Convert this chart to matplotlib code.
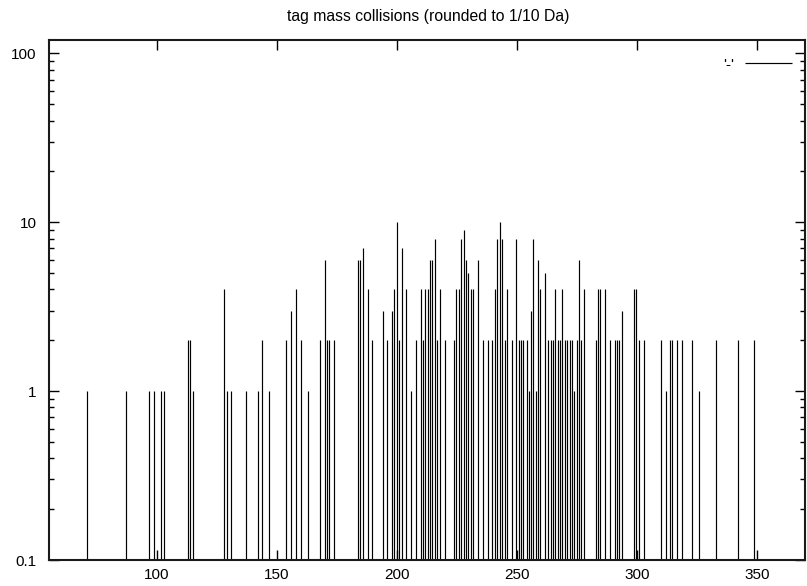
import matplotlib
matplotlib.use("Agg")
import matplotlib.pyplot as plt
from matplotlib.ticker import LogLocator, NullFormatter, FixedLocator

plt.rcParams['font.family'] = ['Liberation Sans', 'DejaVu Sans']

title = "tag mass collisions (rounded to 1/10 Da)"
series_label = "'-'"

masses = [71.0, 87.1, 96.8, 98.8, 101.5, 102.9, 113.0, 113.8, 114.9, 127.9,
          129.0, 130.8, 137.1, 142.0, 143.9, 146.8, 153.8, 155.8, 157.9, 159.9,
          162.8, 167.9, 170.0, 171.0, 171.8, 173.8, 183.9, 184.7, 185.8, 187.8,
          189.7, 194.0, 196.0, 197.8, 198.8, 199.9, 201.0, 202.0, 203.9, 205.7,
          207.8, 209.9, 210.8, 211.8, 212.8, 213.8, 214.7, 215.8, 216.8, 217.8,
          219.9, 223.8, 224.7, 225.7, 226.8, 227.8, 228.8, 229.7, 230.7, 231.7,
          233.6, 235.7, 237.8, 239.7, 240.8, 241.8, 242.9, 243.9, 244.9, 245.8,
          247.8, 249.7, 250.7, 251.7, 252.6, 254.0, 254.9, 255.7, 256.8, 257.8,
          258.8, 259.7, 261.8, 262.8, 264.0, 265.0, 265.8, 267.0, 267.9, 268.9,
          270.0, 271.0, 272.0, 272.9, 273.9, 274.9, 275.8, 276.8, 277.8, 282.9,
          283.9, 284.7, 286.8, 288.8, 290.7, 291.5, 292.6, 293.6, 298.8, 299.5,
          300.7, 302.9, 309.9, 312.0, 313.8, 314.6, 316.5, 318.9, 322.8, 325.8,
          332.8, 342.0, 348.8]
counts = [1, 1, 1, 1, 1, 1, 2, 2, 1, 4,
          1, 1, 1, 1, 2, 1, 2, 3, 4, 2,
          1, 2, 6, 2, 2, 2, 6, 6, 7, 4,
          2, 3, 2, 3, 4, 10, 2, 7, 4, 1,
          2, 4, 2, 4, 4, 6, 6, 8, 2, 4,
          2, 2, 4, 4, 8, 9, 6, 5, 4, 4,
          6, 2, 2, 2, 4, 8, 10, 8, 2, 4,
          2, 8, 2, 2, 2, 2, 1, 3, 8, 1,
          6, 4, 5, 2, 2, 2, 4, 2, 2, 4,
          2, 2, 2, 2, 1, 2, 6, 2, 4, 2,
          4, 4, 4, 2, 2, 2, 2, 3, 4, 4,
          2, 2, 2, 1, 2, 2, 2, 2, 2, 1,
          2, 2, 2]

x_ticks = [100, 150, 200, 250, 300, 350]
y_ticks = [0.1, 1, 10, 100]
y_tick_labels = ["0.1", "1", "10", "100"]
x_range = (55, 370)
y_range = (0.1, 120)

fig = plt.figure(figsize=(8.07, 5.86), dpi=100)
ax = fig.add_axes([49/807, 1 - 560/586, (805 - 49)/807, (560 - 40)/586])

ax.set_yscale('log')
ax.set_xlim(*x_range)
ax.set_ylim(*y_range)

ax.vlines(masses, y_range[0], counts, colors='black', linewidth=0.85, label=series_label)

ax.set_xticks(x_ticks)
ax.set_xticklabels([str(t) for t in x_ticks])
ax.yaxis.set_major_locator(FixedLocator(y_ticks))
ax.set_yticklabels(y_tick_labels)
ax.yaxis.set_minor_locator(LogLocator(base=10, subs=range(2, 10)))
ax.yaxis.set_minor_formatter(NullFormatter())

ax.tick_params(axis='both', which='major', direction='in', length=7, width=1,
               top=True, right=True, labelsize=11, colors='black')
ax.tick_params(axis='y', which='minor', direction='in', length=3.5, width=1,
               right=True)
ax.tick_params(axis='x', which='major', pad=6)
ax.tick_params(axis='y', which='major', pad=9)

for sp in ax.spines.values():
    sp.set_linewidth(1.5)
    sp.set_color('#1a1a1a')

ax.set_title(title, fontsize=11.3, pad=14, x=(428 - 49) / (805 - 49))

leg = ax.legend(loc='upper right', frameon=False, markerfirst=False,
                handlelength=3.1, fontsize=11, bbox_to_anchor=(0.995, 0.985),
                borderaxespad=0.2, handletextpad=0.7)

fig.savefig("out.png", dpi=100)
